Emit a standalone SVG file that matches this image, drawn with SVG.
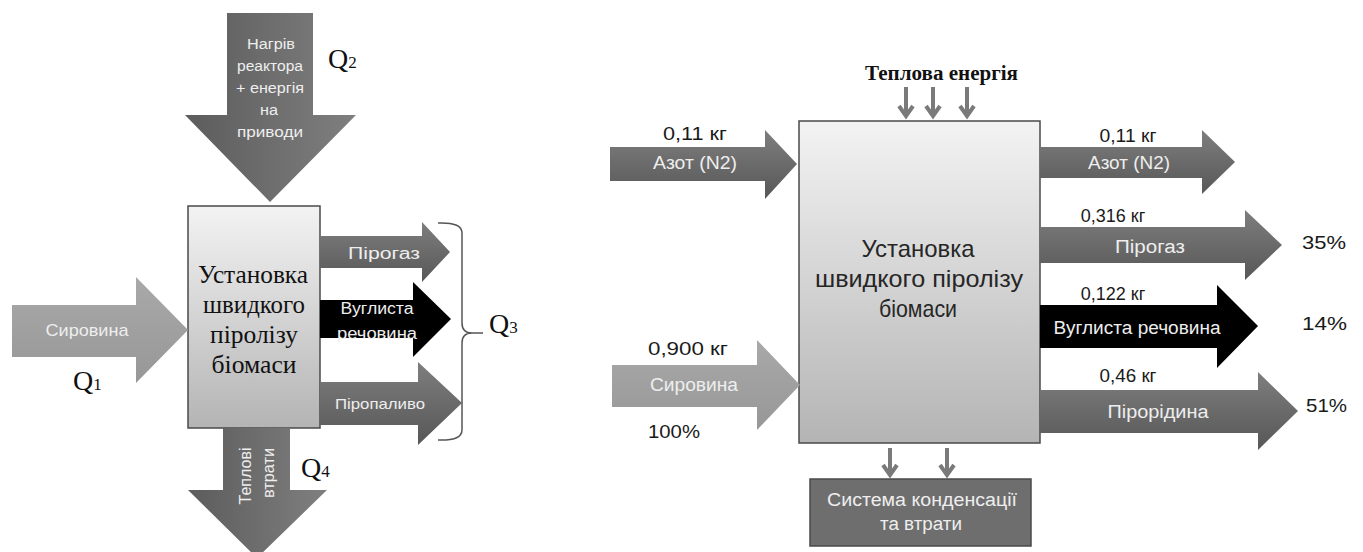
<svg xmlns="http://www.w3.org/2000/svg" width="1363" height="552" viewBox="0 0 1363 552">
<defs>
<linearGradient id="gDark" x1="0" y1="0" x2="0" y2="1"><stop offset="0" stop-color="#7e7e7e"/><stop offset="1" stop-color="#575757"/></linearGradient>
<linearGradient id="gDarkH" x1="0" y1="0" x2="1" y2="0"><stop offset="0" stop-color="#5c5c5c"/><stop offset="1" stop-color="#7f7f7f"/></linearGradient>
<linearGradient id="gLight" x1="0" y1="0" x2="0" y2="1"><stop offset="0" stop-color="#a9a9a9"/><stop offset="1" stop-color="#979797"/></linearGradient>
<linearGradient id="gBox" x1="0" y1="0" x2="0" y2="1"><stop offset="0" stop-color="#f3f3f3"/><stop offset="1" stop-color="#b4b4b4"/></linearGradient>
</defs>
<style>
.lbl{font-family:"Liberation Sans",Arial,sans-serif;fill:#eeeeee;text-anchor:middle;dominant-baseline:central}
.num{font-family:"Liberation Sans",Arial,sans-serif;fill:#1a1a1a;font-size:18px}
.ser{font-family:"Liberation Serif","Times New Roman",serif;fill:#111}
.box{stroke:#4a4a4a;stroke-width:1.5;fill:url(#gBox)}
.small{stroke:#7a7a7a;stroke-width:4;fill:none;stroke-linecap:butt}
.brace{stroke:#555;stroke-width:1.5;fill:none}
</style>

<!-- LEFT DIAGRAM -->
<g id="q2-arrow">
<path d="M227,13 H313 V115 H356 L270,202 L185,115 H227 Z" fill="url(#gDarkH)"/>
<text class="lbl" font-size="14" x="271" y="44" textLength="48" lengthAdjust="spacingAndGlyphs">Нагрів</text>
<text class="lbl" font-size="14" x="270" y="66" textLength="66" lengthAdjust="spacingAndGlyphs">реактора</text>
<text class="lbl" font-size="14" x="270" y="88" textLength="68" lengthAdjust="spacingAndGlyphs">+ енергія</text>
<text class="lbl" font-size="14" x="269" y="110" textLength="18" lengthAdjust="spacingAndGlyphs">на</text>
<text class="lbl" font-size="14" x="270" y="132" textLength="66" lengthAdjust="spacingAndGlyphs">приводи</text>
</g>
<g id="q2-label"><text class="ser" font-size="28" x="328" y="68">Q<tspan font-size="17">2</tspan></text></g>

<g id="left-plant">
<rect class="box" x="188" y="206" width="132" height="222"/>
<text class="ser" font-size="26" x="253" y="283" text-anchor="middle" fill="#222" textLength="110" lengthAdjust="spacingAndGlyphs">Установка</text>
<text class="ser" font-size="26" x="254" y="313" text-anchor="middle" fill="#222" textLength="102" lengthAdjust="spacingAndGlyphs">швидкого</text>
<text class="ser" font-size="26" x="254" y="343" text-anchor="middle" fill="#222" textLength="88" lengthAdjust="spacingAndGlyphs">піролізу</text>
<text class="ser" font-size="26" x="254" y="373" text-anchor="middle" fill="#222" textLength="85" lengthAdjust="spacingAndGlyphs">біомаси</text>
</g>

<g id="left-pirogaz">
<path d="M320,236 H422 V222 L450,252 L422,282 V268 H320 Z" fill="url(#gDark)"/>
<text class="lbl" font-size="16" x="384" y="253" textLength="72" lengthAdjust="spacingAndGlyphs">Пірогаз</text>
</g>
<g id="left-vuglista">
<path d="M320,300 H413 V282 L451,319 L413,357 V338 H320 Z" fill="#000"/>
<text class="lbl" font-size="16" x="377" y="308" textLength="73" lengthAdjust="spacingAndGlyphs">Вуглиста</text>
<text class="lbl" font-size="16" x="377" y="333" textLength="80" lengthAdjust="spacingAndGlyphs">речовина</text>
</g>
<g id="left-piropalyvo">
<path d="M320,382 H418 V362 L462,403 L418,445 V425 H320 Z" fill="url(#gDark)"/>
<text class="lbl" font-size="15" x="380" y="403" textLength="90" lengthAdjust="spacingAndGlyphs">Піропаливо</text>
</g>
<g id="q3">
<path class="brace" d="M438,223 Q462,222 462,233 V323 Q462,333 472,333 H483 M472,333 Q462,333 462,343 V430 Q462,441 438,440"/>
<text class="ser" font-size="28" x="489" y="333">Q<tspan font-size="17">3</tspan></text>
</g>

<g id="left-syrovyna">
<path d="M12,305 H136 V277 L188,330 L136,383 V357 H12 Z" fill="url(#gLight)"/>
<text class="lbl" font-size="17" x="87" y="330" textLength="83" lengthAdjust="spacingAndGlyphs">Сировина</text>
</g>
<g id="q1-label"><text class="ser" font-size="28" x="73" y="390">Q<tspan font-size="17">1</tspan></text></g>

<g id="left-losses">
<path d="M223,428 H290 V490 H327 L257,558 L188,490 H223 Z" fill="url(#gDarkH)"/>
<text class="lbl" font-size="16" transform="translate(245,476) rotate(-90)" textLength="57" lengthAdjust="spacingAndGlyphs">Теплові</text>
<text class="lbl" font-size="16" transform="translate(268,473) rotate(-90)" textLength="50" lengthAdjust="spacingAndGlyphs">втрати</text>
</g>
<g id="q4-label"><text class="ser" font-size="28" x="301" y="477">Q<tspan font-size="17">4</tspan></text></g>

<!-- RIGHT DIAGRAM -->
<g id="heat-title"><text class="ser" font-size="20" font-weight="bold" x="865" y="80" textLength="153" lengthAdjust="spacingAndGlyphs">Теплова енергія</text></g>

<g id="right-plant">
<rect class="box" x="799" y="121" width="241" height="322"/>
<text x="918" y="257" font-family="Liberation Sans,Arial,sans-serif" font-size="24" fill="#262626" text-anchor="middle" textLength="113" lengthAdjust="spacingAndGlyphs">Установка</text>
<text x="919" y="287" font-family="Liberation Sans,Arial,sans-serif" font-size="24" fill="#262626" text-anchor="middle" textLength="208" lengthAdjust="spacingAndGlyphs">швидкого піролізу</text>
<text x="918" y="317" font-family="Liberation Sans,Arial,sans-serif" font-size="24" fill="#262626" text-anchor="middle" textLength="78" lengthAdjust="spacingAndGlyphs">біомаси</text>
</g>

<g id="in-azot">
<path d="M610,147 H765 V130 L797,164 L765,199 V181 H610 Z" fill="url(#gDark)"/>
<text class="num" x="695" y="140" text-anchor="middle" textLength="64" lengthAdjust="spacingAndGlyphs">0,11 кг</text>
<text class="lbl" font-size="18" x="695" y="163" textLength="84" lengthAdjust="spacingAndGlyphs">Азот (N2)</text>
</g>

<g id="in-syrovyna">
<path d="M612,365 H757 V340 L800,385 L757,430 V407 H612 Z" fill="url(#gLight)"/>
<text class="num" x="648" y="355" textLength="80" lengthAdjust="spacingAndGlyphs">0,900 кг</text>
<text class="lbl" font-size="18" x="694" y="385" textLength="88" lengthAdjust="spacingAndGlyphs">Сировина</text>
<text class="num" x="648" y="438" font-size="19" textLength="52" lengthAdjust="spacingAndGlyphs">100%</text>
</g>

<g id="out-azot">
<path d="M1040,147 H1202 V130 L1235,162 L1202,194 V178 H1040 Z" fill="url(#gDark)"/>
<text class="num" x="1128" y="142" text-anchor="middle" textLength="57" lengthAdjust="spacingAndGlyphs">0,11 кг</text>
<text class="lbl" font-size="18" x="1129" y="163" textLength="82" lengthAdjust="spacingAndGlyphs">Азот (N2)</text>
</g>

<g id="out-pirogaz">
<path d="M1040,227 H1245 V210 L1282,245 L1245,280 V263 H1040 Z" fill="url(#gDark)"/>
<text class="num" x="1113" y="222" text-anchor="middle">0,316 кг</text>
<text class="lbl" font-size="18" x="1150" y="247" textLength="70" lengthAdjust="spacingAndGlyphs">Пірогаз</text>
<text class="num" x="1302" y="249" font-size="20" textLength="44" lengthAdjust="spacingAndGlyphs">35%</text>
</g>

<g id="out-vuglista">
<path d="M1040,305 H1217 V285 L1258,326 L1217,368 V348 H1040 Z" fill="#000"/>
<text class="num" x="1113" y="300" text-anchor="middle">0,122 кг</text>
<text class="lbl" font-size="18" x="1137" y="328" textLength="167" lengthAdjust="spacingAndGlyphs">Вуглиста речовина</text>
<text class="num" x="1302" y="330" font-size="20" textLength="45" lengthAdjust="spacingAndGlyphs">14%</text>
</g>

<g id="out-pirorydyna">
<path d="M1040,390 H1258 V372 L1298,411 L1258,450 V433 H1040 Z" fill="url(#gDark)"/>
<text class="num" x="1128" y="382" text-anchor="middle" textLength="57" lengthAdjust="spacingAndGlyphs">0,46 кг</text>
<text class="lbl" font-size="18" x="1158" y="412" textLength="101" lengthAdjust="spacingAndGlyphs">Пірорідина</text>
<text class="num" x="1306" y="412" font-size="20" textLength="41" lengthAdjust="spacingAndGlyphs">51%</text>
</g>

<g id="condensation">
<rect x="810" y="479" width="221" height="67" fill="#6e6e6e" stroke="#4a4a4a" stroke-width="1.5"/>
<text class="lbl" font-size="18" x="922" y="500" textLength="190" lengthAdjust="spacingAndGlyphs">Система конденсації</text>
<text class="lbl" font-size="18" x="921" y="524" textLength="82" lengthAdjust="spacingAndGlyphs">та втрати</text>
</g>

<g id="connectors">
<path class="small" d="M906,87 V116 M899,106 L906,116 L913,106"/>
<path class="small" d="M933,87 V116 M926,106 L933,116 L940,106"/>
<path class="small" d="M967,87 V116 M960,106 L967,116 L974,106"/>
<path class="small" d="M890,448 V475 M883,465 L890,475 L897,465"/>
<path class="small" d="M947,448 V475 M940,465 L947,475 L954,465"/>
</g>
</svg>
